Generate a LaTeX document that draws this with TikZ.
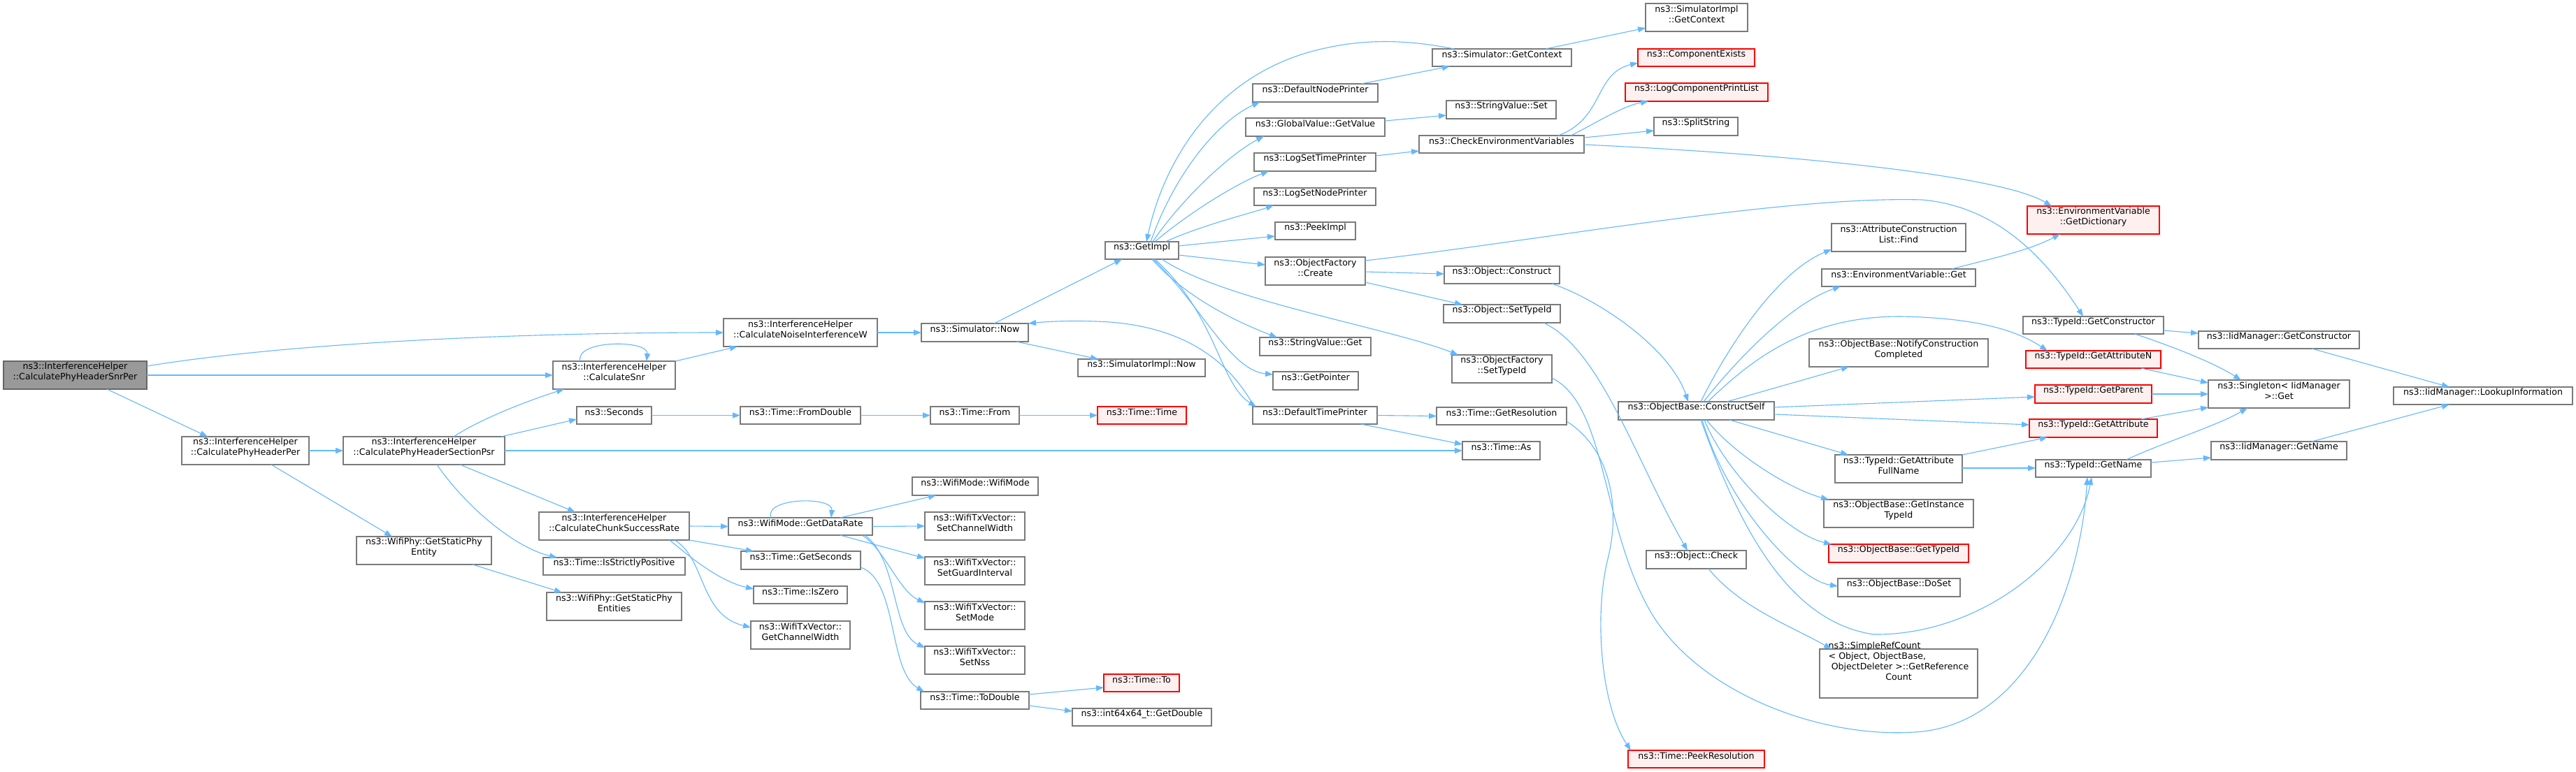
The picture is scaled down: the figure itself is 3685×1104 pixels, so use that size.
\documentclass[tikz,border=0pt]{standalone}
\usepackage{fontspec}
\setmainfont{DejaVu Sans}
\usetikzlibrary{arrows.meta,fit}
\definecolor{eb}{HTML}{63B8FF}
\definecolor{bg}{HTML}{7A7A7A}
\definecolor{rf}{HTML}{FFF0F0}
\definecolor{rootf}{HTML}{999999}
\definecolor{rootb}{HTML}{666666}
\begin{document}
\begin{tikzpicture}[x=1pt,y=-1pt,
 fn/.style={draw=bg, line width=1.3pt, fill=white, inner sep=0pt, outer sep=0pt, font=\fontsize{12.6}{15}\selectfont, align=center},
 redfn/.style={fn, draw=red, fill=rf},
 rootfn/.style={fn, draw=rootb, fill=rootf},
 call/.style={draw=eb, line width=1.1pt, -{Triangle[length=11pt,width=8pt]}}]
\fill[white] (0,0) rectangle (3685,1104);
\useasboundingbox (0,0) rectangle (3685,1104);
% ---------- nodes ----------
\node[rootfn, align=left, fit={(5,517) (210,557)}] (snrper) {ns3::InterferenceHelper\\::CalculatePhyHeaderSnrPer};
\node[fn, fit={(791,517) (966,557)}] (calcsnr) {ns3::InterferenceHelper\\::CalculateSnr};
\node[fn, align=left, fit={(260,625) (442,665)}] (phyper) {ns3::InterferenceHelper\\::CalculatePhyHeaderPer};
\node[fn, align=left, fit={(491,625) (722,665)}] (psr) {ns3::InterferenceHelper\\::CalculatePhyHeaderSectionPsr};
\node[fn, fit={(825,582) (932,607)}] (seconds) {ns3::Seconds};
\node[fn, align=left, fit={(771,733) (986,773)}] (chunk) {ns3::InterferenceHelper\\::CalculateChunkSuccessRate};
\node[fn, fit={(510,768) (703,808)}] (staticent) {ns3::WifiPhy::GetStaticPhy\\Entity};
\node[fn, fit={(777,798) (980,823)}] (strictpos) {ns3::Time::IsStrictlyPositive};
\node[fn, fit={(782,848) (975,888)}] (staticents) {ns3::WifiPhy::GetStaticPhy\\Entities};
\node[fn, align=left, fit={(1035,456) (1255,496)}] (noisew) {ns3::InterferenceHelper\\::CalculateNoiseInterferenceW};
\node[fn, fit={(1318,463) (1471,489)}] (simnow) {ns3::Simulator::Now};
\node[fn, fit={(1542,514) (1724,539)}] (simimplnow) {ns3::SimulatorImpl::Now};
\node[fn, fit={(1581,346) (1686,371)}] (getimpl) {ns3::GetImpl};
\node[fn, fit={(1792,120) (1971,146)}] (defnode) {ns3::DefaultNodePrinter};
\node[fn, fit={(1782,169) (1981,195)}] (gvget) {ns3::GlobalValue::GetValue};
\node[fn, fit={(1794,219) (1968,245)}] (logtime) {ns3::LogSetTimePrinter};
\node[fn, fit={(1794,269) (1968,294)}] (lognode) {ns3::LogSetNodePrinter};
\node[fn, fit={(1824,318) (1939,343)}] (peek) {ns3::PeekImpl};
\node[fn, fit={(1810,368) (1953,408)}] (ofcreate) {ns3::ObjectFactory\\::Create};
\node[fn, fit={(1802,483) (1961,509)}] (svget) {ns3::StringValue::Get};
\node[fn, fit={(1821,532) (1943,558)}] (getptr) {ns3::GetPointer};
\node[fn, fit={(1792,582) (1970,607)}] (deftime) {ns3::DefaultTimePrinter};
\node[fn, fit={(2049,70) (2248,95)}] (simctx) {ns3::Simulator::GetContext};
\node[fn, fit={(2354,5) (2500,45)}] (simimplctx) {ns3::SimulatorImpl\\::GetContext};
\node[redfn, fit={(2343,70) (2510,95)}] (compexists) {ns3::ComponentExists};
\node[redfn, fit={(2325,119) (2529,145)}] (logcpl) {ns3::LogComponentPrintList};
\node[fn, fit={(2069,144) (2226,170)}] (svset) {ns3::StringValue::Set};
\node[fn, fit={(2366,168) (2486,194)}] (split) {ns3::SplitString};
\node[fn, fit={(2030,194) (2266,219)}] (checkenv) {ns3::CheckEnvironmentVariables};
\node[fn, fit={(2066,381) (2231,406)}] (objconstruct) {ns3::Object::Construct};
\node[fn, fit={(2065,436) (2232,462)}] (objsettid) {ns3::Object::SetTypeId};
\node[fn, fit={(2077,508) (2220,548)}] (ofsettid) {ns3::ObjectFactory\\::SetTypeId};
\node[fn, fit={(2620,320) (2812,360)}] (acfind) {ns3::AttributeConstruction\\List::Find};
\node[fn, fit={(2606,385) (2826,410)}] (envget) {ns3::EnvironmentVariable::Get};
\node[fn, fit={(2588,485) (2844,525)}] (notify) {ns3::ObjectBase::NotifyConstruction\\Completed};
\node[redfn, fit={(2900,295) (3089,335)}] (envdict) {ns3::EnvironmentVariable\\::GetDictionary};
\node[fn, fit={(2894,453) (3095,478)}] (tidctor) {ns3::TypeId::GetConstructor};
\node[fn, fit={(3145,474) (3375,499)}] (iidctor) {ns3::IidManager::GetConstructor};
\node[redfn, fit={(2898,502) (3091,527)}] (tidattrn) {ns3::TypeId::GetAttributeN};
\node[fn, fit={(3159,544) (3361,584)}] (singleton) {ns3::Singleton< IidManager\\>::Get};
\node[fn, fit={(3424,554) (3680,579)}] (lookup) {ns3::IidManager::LookupInformation};
\node[redfn, fit={(2911,551) (3078,577)}] (tidparent) {ns3::TypeId::GetParent};
\node[redfn, fit={(2903,600) (3086,626)}] (tidattr) {ns3::TypeId::GetAttribute};
\node[fn, fit={(2912,658) (3077,683)}] (tidname) {ns3::TypeId::GetName};
\node[fn, fit={(3163,632) (3357,658)}] (iidname) {ns3::IidManager::GetName};
\node[fn, fit={(2625,651) (2807,691)}] (fullname) {ns3::TypeId::GetAttribute\\FullName};
\node[fn, fit={(2609,715) (2823,755)}] (insttid) {ns3::ObjectBase::GetInstance\\TypeId};
\node[redfn, fit={(2616,779) (2816,805)}] (obtid) {ns3::ObjectBase::GetTypeId};
\node[fn, fit={(2629,828) (2804,854)}] (doset) {ns3::ObjectBase::DoSet};
\node[fn, fit={(2603,929) (2829,999)}] (refcount) {\begin{tabular}{@{}l@{}}ns3::SimpleRefCount\\< Object, ObjectBase,\\\ ObjectDeleter >::GetReference\\\multicolumn{1}{@{}c@{}}{Count}\end{tabular}};
\node[fn, fit={(2055,583) (2241,608)}] (getres) {ns3::Time::GetResolution};
\node[fn, fit={(2092,632) (2203,658)}] (timeas) {ns3::Time::As};
\node[fn, fit={(2315,575) (2538,601)}] (constructself) {ns3::ObjectBase::ConstructSelf};
\node[fn, fit={(2355,788) (2498,814)}] (objcheck) {ns3::Object::Check};
\node[redfn, fit={(2329,1074) (2524,1099)}] (peekres) {ns3::Time::PeekResolution};
\node[fn, fit={(1059,582) (1231,607)}] (fromdouble) {ns3::Time::FromDouble};
\node[fn, fit={(1331,582) (1458,607)}] (from) {ns3::Time::From};
\node[redfn, fit={(1570,582) (1697,607)}] (timetime) {ns3::Time::Time};
\node[fn, fit={(1305,683) (1485,709)}] (wifimode) {ns3::WifiMode::WifiMode};
\node[fn, fit={(1042,741) (1248,766)}] (datarate) {ns3::WifiMode::GetDataRate};
\node[fn, fit={(1323,733) (1466,773)}] (setcw) {ns3::WifiTxVector::\\SetChannelWidth};
\node[fn, fit={(1323,797) (1466,837)}] (setgi) {ns3::WifiTxVector::\\SetGuardInterval};
\node[fn, fit={(1323,861) (1466,901)}] (setmode) {ns3::WifiTxVector::\\SetMode};
\node[fn, fit={(1323,925) (1466,965)}] (setnss) {ns3::WifiTxVector::\\SetNss};
\node[fn, fit={(1060,789) (1231,815)}] (getsec) {ns3::Time::GetSeconds};
\node[fn, fit={(1078,839) (1212,864)}] (iszero) {ns3::Time::IsZero};
\node[fn, fit={(1074,889) (1216,929)}] (getcw) {ns3::WifiTxVector::\\GetChannelWidth};
\node[fn, fit={(1317,990) (1472,1015)}] (todouble) {ns3::Time::ToDouble};
\node[redfn, fit={(1579,965) (1687,990)}] (timeto) {ns3::Time::To};
\node[fn, fit={(1534,1014) (1733,1039)}] (getdouble) {ns3::int64x64\_t::GetDouble};
% ---------- edges ----------
\draw[call] (snrper.east |- 0,524) .. controls (420,490) and (750,476) .. (noisew.west |- 0,476);
\draw[call] (snrper.east) -- (calcsnr.west);
\draw[call] (snrper.south -| 153,0) -- (phyper.north -| 297,0);
\draw[call] (calcsnr.north -| 830,0) .. controls (822,486) and (928,486) .. (calcsnr.north -| 925,0);
\draw[call] (calcsnr.north east) -- (noisew.south -| 1055,0);
\draw[call] (phyper.east) -- (psr.west);
\draw[call] (phyper.south -| 388,0) -- (staticent.north -| 561,0);
\draw[call] (psr.north -| 649,0) .. controls (690,598) and (760,572) .. (calcsnr.south -| 807,0);
\draw[call] (psr.north -| 717,0) -- (seconds.west |- 0,600);
\draw[call] (psr.east) -- (timeas.west);
\draw[call] (psr.south -| 658,0) -- (chunk.north -| 823,0);
\draw[call] (psr.south -| 625,0) .. controls (670,730) and (740,785) .. (strictpos.north -| 797,0);
\draw[call] (staticent.south -| 676,0) -- (staticents.north -| 804,0);
\draw[call] (noisew.east) -- (simnow.west);
\draw[call] (simnow.north -| 1422,0) -- (getimpl.south -| 1605,0);
\draw[call] (simnow.south -| 1454,0) -- (simimplnow.north -| 1571,0);
\draw[call] (seconds.east) -- (fromdouble.west);
\draw[call] (fromdouble.east) -- (from.west);
\draw[call] (from.east) -- (timetime.west);
\draw[call] (chunk.east) -- (datarate.west);
\draw[call] (chunk.south east) -- (getsec.north -| 1078,0);
\draw[call] (chunk.south -| 958,0) .. controls (990,800) and (1030,832) .. (iszero.west |- 0,843);
\draw[call] (chunk.south -| 965,0) .. controls (1010,800) and (1000,880) .. (getcw.west |- 0,898);
\draw[call] (datarate.north -| 1103,0) .. controls (1092,712) and (1192,710) .. (datarate.north -| 1189,0);
\draw[call] (datarate.north -| 1202,0) -- (wifimode.south -| 1339,0);
\draw[call] (datarate.east) -- (setcw.west);
\draw[call] (datarate.south -| 1202,0) -- (setgi.west |- 0,799);
\draw[call] (datarate.south -| 1233,0) .. controls (1265,785) and (1285,845) .. (setmode.west |- 0,863);
\draw[call] (datarate.south -| 1237,0) .. controls (1285,800) and (1275,905) .. (setnss.west |- 0,927);
\draw[call] (getsec.east |- 0,812) .. controls (1285,830) and (1270,960) .. (todouble.north -| 1322,0);
\draw[call] (todouble.east |- 0,994) -- (timeto.west |- 0,984);
\draw[call] (todouble.east |- 0,1010) -- (getdouble.west |- 0,1018);
% GetImpl group
\draw[call] (simctx.north -| 2080,0) .. controls (2020,58) and (1960,55) .. (1900,68) .. controls (1740,100) and (1665,230) .. (getimpl.north -| 1640,0);
\draw[call] (getimpl.north -| 1646,0) .. controls (1680,250) and (1740,175) .. (defnode.south -| 1802,0);
\draw[call] (getimpl.north -| 1649,0) .. controls (1690,285) and (1760,220) .. (gvget.south -| 1808,0);
\draw[call] (getimpl.north -| 1652,0) .. controls (1700,305) and (1770,262) .. (logtime.south -| 1815,0);
\draw[call] (getimpl.north -| 1667,0) .. controls (1720,322) and (1790,305) .. (lognode.south -| 1822,0);
\draw[call] (getimpl.east |- 0,352) -- (peek.west |- 0,338);
\draw[call] (getimpl.east |- 0,365) -- (ofcreate.west |- 0,379);
\draw[call] (getimpl.south -| 1662,0) .. controls (1750,430) and (1990,470) .. (ofsettid.north -| 2086,0);
\draw[call] (getimpl.south -| 1648,0) .. controls (1700,430) and (1780,465) .. (svget.north -| 1827,0);
\draw[call] (getimpl.south -| 1650,0) .. controls (1720,440) and (1760,530) .. (getptr.west |- 0,536);
\draw[call] (getimpl.south -| 1652,0) .. controls (1740,450) and (1745,550) .. (deftime.north -| 1797,0);
\draw[call] (deftime.north -| 1794,0) .. controls (1760,520) and (1700,470) .. (1588,461) .. controls (1540,458) and (1500,460) .. (simnow.north east);
\draw[call] (defnode.north -| 1947,0) -- (simctx.south -| 2074,0);
\draw[call] (simctx.north -| 2211,0) -- (simimplctx.west |- 0,40);
\draw[call] (gvget.east |- 0,173) -- (svset.west |- 0,165);
\draw[call] (logtime.east |- 0,223) -- (checkenv.west |- 0,216);
\draw[call] (checkenv.north -| 2229,0) .. controls (2295,170) and (2280,105) .. (compexists.west |- 0,90);
\draw[call] (checkenv.north -| 2247,0) .. controls (2280,178) and (2320,152) .. (logcpl.south -| 2358,0);
\draw[call] (checkenv.east |- 0,197) -- (split.west |- 0,187);
\draw[call] (checkenv.east |- 0,207) .. controls (2550,220) and (2860,250) .. (envdict.north -| 2935,0);
\draw[call] (ofcreate.east |- 0,373) .. controls (2200,345) and (2550,280) .. (2750,286) .. controls (2850,295) and (2920,360) .. (tidctor.north -| 2980,0);
\draw[call] (ofcreate.east |- 0,389) -- (objconstruct.west |- 0,392);
\draw[call] (ofcreate.east |- 0,404) -- (objsettid.north -| 2092,0);
\draw[call] (objconstruct.south -| 2220,0) .. controls (2290,430) and (2390,500) .. (constructself.north -| 2415,0);
\draw[call] (objsettid.south -| 2208,0) .. controls (2290,500) and (2340,660) .. (objcheck.north -| 2414,0);
\draw[call] (ofsettid.east |- 0,541) .. controls (2300,580) and (2290,760) .. (2365,882) .. controls (2440,1000) and (2620,1060) .. (2750,1047) .. controls (2900,1030) and (2975,850) .. (tidname.south -| 2986,0);
\draw[call] (getres.east |- 0,603) .. controls (2300,640) and (2320,720) .. (2300,800) .. controls (2280,880) and (2290,1010) .. (peekres.north -| 2333,0);
% ConstructSelf group
\draw[call] (constructself.north -| 2433,0) .. controls (2470,500) and (2540,390) .. (acfind.west |- 0,357);
\draw[call] (constructself.north -| 2437,0) .. controls (2480,520) and (2560,435) .. (envget.south -| 2633,0);
\draw[call] (constructself.north -| 2443,0) .. controls (2500,520) and (2580,452) .. (2720,453) .. controls (2820,455) and (2880,470) .. (tidattrn.north -| 2929,0);
\draw[call] (constructself.north -| 2470,0) -- (notify.south -| 2645,0);
\draw[call] (constructself.east |- 0,583) -- (tidparent.west |- 0,568);
\draw[call] (constructself.east |- 0,593) -- (tidattr.west |- 0,608);
\draw[call] (constructself.south -| 2474,0) -- (fullname.north -| 2644,0);
\draw[call] (constructself.south -| 2441,0) .. controls (2480,650) and (2560,700) .. (insttid.north -| 2616,0);
\draw[call] (constructself.south -| 2438,0) .. controls (2470,680) and (2560,765) .. (obtid.north -| 2620,0);
\draw[call] (constructself.south -| 2435,0) .. controls (2470,720) and (2570,830) .. (doset.west |- 0,839);
\draw[call] (constructself.south -| 2433,0) .. controls (2490,760) and (2560,890) .. (2680,908) .. controls (2830,910) and (2970,800) .. (tidname.south -| 2992,0);
\draw[call] (objcheck.south -| 2444,0) .. controls (2490,870) and (2560,895) .. (refcount.north -| 2620,0);
\draw[call] (fullname.north east) -- (tidattr.south -| 2929,0);
\draw[call] (fullname.east |- 0,670) -- (tidname.west |- 0,670);
\draw[call] (envget.north -| 2792,0) .. controls (2840,372) and (2900,360) .. (envdict.south -| 2947,0);
\draw[call] (tidctor.east |- 0,473) -- (iidctor.west |- 0,477);
\draw[call] (tidctor.south -| 3054,0) .. controls (3090,490) and (3160,515) .. (singleton.north -| 3206,0);
\draw[call] (tidattrn.south -| 3063,0) -- (singleton.west |- 0,548);
\draw[call] (tidparent.east) -- (singleton.west);
\draw[call] (tidattr.north -| 3063,0) -- (singleton.west |- 0,583);
\draw[call] (tidname.north -| 3042,0) .. controls (3090,635) and (3170,610) .. (singleton.south -| 3215,0);
\draw[call] (tidname.east |- 0,662) -- (iidname.west |- 0,655);
\draw[call] (iidctor.south -| 3307,0) -- (lookup.north -| 3504,0);
\draw[call] (iidname.north -| 3307,0) -- (lookup.south -| 3504,0);
\draw[call] (deftime.east) -- (getres.west);
\draw[call] (deftime.south -| 1947,0) -- (timeas.west |- 0,636);
\end{tikzpicture}
\end{document}
